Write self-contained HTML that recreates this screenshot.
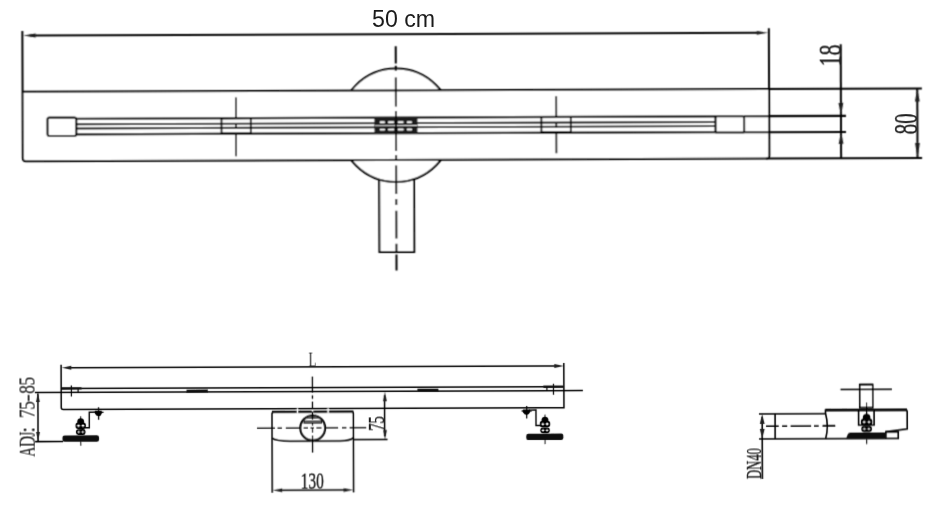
<!DOCTYPE html>
<html><head><meta charset="utf-8">
<style>
html,body{margin:0;padding:0;background:#fff;width:940px;height:510px;overflow:hidden;}
svg{display:block;}
.s{stroke:#000;stroke-width:2.0;fill:none;}
.t{fill:#1e1e1e;}
#bottom .s{stroke-width:1.5;}
#right .s{stroke-width:1.6;}
.serif{font-family:"Liberation Serif",serif;stroke:#111;stroke-width:0.35;}
</style></head>
<body>
<svg width="940" height="510" viewBox="0 0 940 510">
<rect x="0" y="0" width="940" height="510" fill="#fff"/>
<defs><filter id="bl" x="0" y="0" width="940" height="510" filterUnits="userSpaceOnUse"><feConvolveMatrix order="3" kernelMatrix="1 3 1 3 9 3 1 3 1" divisor="25" edgeMode="duplicate"/></filter><filter id="bl2" x="0" y="0" width="940" height="510" filterUnits="userSpaceOnUse"><feConvolveMatrix order="3" kernelMatrix="0 1 0 1 8 1 0 1 0" divisor="12" edgeMode="duplicate"/></filter></defs>
<defs>

</defs>
<g filter="url(#bl)">

<g id="top" transform="rotate(-0.21 396 125)">
  <!-- dimension line 50cm -->
  <line class="s" x1="30" y1="34.2" x2="760" y2="34.2"/>
  <polygon class="t" points="23.5,34.2 36.00,36.10 36.00,32.30"/>
  <polygon class="t" points="768.5,34.2 757.00,32.30 757.00,36.10"/>
  <!-- pipe -->
  <rect class="s" x="379" y="160" width="34.8" height="92" style="fill:#fff"/>
  <!-- circle -->
  <circle class="s" cx="396" cy="125.3" r="56.7" style="fill:#fff"/>
  <!-- body -->
  <rect x="22.7" y="90.4" width="746" height="69.5" fill="#fff"/>
  <path class="s" d="M22.7,29.6 V156.9 Q22.7,159.9 25.7,159.9 H766.2 Q769.2,159.9 769.2,156.9 V29.6"/>
  <line class="s" x1="22.7" y1="90.4" x2="922" y2="90.4"/>
  <line class="s" x1="766" y1="159.9" x2="922" y2="159.9"/>
  <!-- channel -->
  <g class="s" style="stroke-width:1.8">
    <line x1="76" y1="117.6" x2="716" y2="117.6" style="stroke-width:2.2;stroke:#000"/>
    <line x1="76" y1="123.1" x2="716" y2="123.1" style="stroke-width:1.9"/>
    <line x1="76" y1="127.3" x2="716" y2="127.3" style="stroke-width:1.9"/>
    <line x1="76" y1="133.2" x2="716" y2="133.2" style="stroke-width:2.2;stroke:#000"/>
    <rect x="47.5" y="116.4" width="28.8" height="18.4" rx="2" style="stroke-width:2.1"/>
    <rect x="715.5" y="117.5" width="28.6" height="16.2" rx="1.5" style="stroke-width:2.1"/>
    <line x1="744" y1="117.5" x2="846" y2="117.5" style="stroke-width:2.1"/>
    <line x1="744" y1="133.6" x2="846" y2="133.6" style="stroke-width:2.1"/>
    <!-- clips -->
    <rect x="221.5" y="117.6" width="29.3" height="15.2"/>
    <path d="M236,97 V118 M236,122.5 V128 M236,132.5 V155.6"/>
    <rect x="541.4" y="117.6" width="29.4" height="15.2"/>
    <path d="M556.3,96.9 V118 M556.3,122.5 V128 M556.3,132.5 V153.8"/>
  </g>
  <!-- center grate -->
  <rect x="374.4" y="117.4" width="43.1" height="16.2" fill="#1e1e1e"/>
  <g fill="#fff">
    <rect x="379.7" y="121.2" width="5.3" height="1.9" rx="0.8"/>
    <rect x="388" y="121.2" width="6.2" height="1.9" rx="0.8"/>
    <rect x="397.7" y="121.2" width="6" height="1.9" rx="0.8"/>
    <rect x="406.8" y="121.2" width="5.2" height="1.9" rx="0.8"/>
    <rect x="379.7" y="128.6" width="5.3" height="1.9" rx="0.8"/>
    <rect x="388" y="128.6" width="6.2" height="1.9" rx="0.8"/>
    <rect x="397.7" y="128.6" width="6" height="1.9" rx="0.8"/>
    <rect x="406.8" y="128.6" width="5.2" height="1.9" rx="0.8"/>
    <rect x="375" y="125.1" width="42" height="1.1" fill="#ddd"/>
  </g>
  <!-- centre line -->
  <path class="s" d="M396,46.2V63.5 M396,65.7V71 M396,77.5V106.5 M396,111V151 M396,155V161 M396,165.5V194 M396,199V205 M396,210.7V238.6 M396,243.7V251 M396,254.5V270.5"/>
  <!-- 18 dimension -->
  <line class="s" x1="841" y1="45.9" x2="841" y2="159.9"/>
  <polygon class="t" points="841,117.5 843.40,104.50 838.60,104.50"/>
  <polygon class="t" points="841,133.4 838.60,145.50 843.40,145.50"/>
  <!-- 80 dimension -->
  <line class="s" x1="917.4" y1="90.4" x2="917.4" y2="159.9"/>
  <polygon class="t" points="917.4,90.4 915.00,103.50 919.80,103.50"/>
  <polygon class="t" points="917.4,159.9 919.80,145.00 915.00,145.00"/>
</g>
</g>
<g filter="url(#bl2)">
<g id="bottom" transform="rotate(-0.21 470 420)">
  <!-- L dimension -->
  <line class="s" x1="68" y1="366.3" x2="558" y2="366.3"/>
  <polygon class="t" points="62,366.3 71.50,368.20 71.50,364.40"/>
  <polygon class="t" points="564,366.3 554.50,364.40 554.50,368.20"/>
  <!-- body -->
  <path class="s" d="M61.3,363.3 V406 Q61.3,408 63.3,408 H564 V363.3"/>
  <line class="s" x1="61.3" y1="387" x2="564" y2="387"/>
  <line class="s" x1="35" y1="391" x2="583" y2="391"/>
  <rect x="186.6" y="388.6" width="21.3" height="3" fill="#111"/>
  <rect x="417.5" y="388.6" width="21" height="3" fill="#111"/>
  <g class="s" style="stroke-width:1.2">
    <line x1="71.5" y1="384" x2="71.5" y2="395"/>
    <line x1="78.2" y1="386.5" x2="78.2" y2="391"/>
    <line x1="553.6" y1="384" x2="553.6" y2="395"/>
    <line x1="547" y1="386.5" x2="547" y2="391"/>
  </g>
  <path d="M62,387 H81.7 M543.5,387 H564" stroke="#111" stroke-width="2.4"/>
  <!-- ADJ dimension -->
  <line class="s" x1="38" y1="392" x2="38" y2="439.5"/>
  <polygon class="t" points="38,391 36.10,400.50 39.90,400.50"/>
  <polygon class="t" points="38,440 39.90,430.50 36.10,430.50"/>
  <line class="s" x1="35" y1="440" x2="63" y2="440" style="stroke-width:1.6"/>
  <!-- feet -->
  <rect x="62.4" y="433.9" width="36.6" height="6.4" rx="2.2" fill="#111"/>
  <g transform="translate(80.7,433.9)">
  <line x1="0" y1="-19" x2="0" y2="-15.5" stroke="#111" stroke-width="1"/>
  <path d="M-3.4,-12 V-14.2 Q-3.2,-16.8 0,-17 Q3.2,-16.8 3.4,-14.2 V-12 Z" fill="#000"/>
  <rect x="-5.2" y="-12.8" width="10.4" height="6.4" rx="2.6" fill="#000"/>
  <ellipse cx="-2.2" cy="-9.6" rx="1.3" ry="0.9" fill="#fff"/>
  <ellipse cx="2.2" cy="-9.6" rx="1.3" ry="0.9" fill="#fff"/>
  <rect x="-4.8" y="-6.2" width="9.6" height="5.8" rx="2.5" fill="#000"/>
  <ellipse cx="-2" cy="-3.3" rx="1.2" ry="0.8" fill="#fff"/>
  <ellipse cx="2" cy="-3.3" rx="1.2" ry="0.8" fill="#fff"/>
  <line x1="0" y1="6" x2="0" y2="10.5" stroke="#111" stroke-width="1"/>
</g>
  <path class="s" style="stroke-width:1.4" d="M84.5,426.3 H89.3 V410.8 H97" />
  <g transform="translate(98.6,411)">
  <line x1="0" y1="-5" x2="0" y2="7.5" stroke="#111" stroke-width="1.3"/>
  <line x1="-5" y1="0" x2="5" y2="0" stroke="#111" stroke-width="1.4"/>
  <path d="M-3.6,-1.6 H3.2 V1.2 Q2.4,3.8 0,4 Q-2.6,3.8 -3.6,1.2 Z" fill="#000"/>
</g>
  <rect x="526.2" y="433.9" width="37.1" height="6.4" rx="2.2" fill="#111"/>
  <g transform="translate(545,433.9)">
  <line x1="0" y1="-19" x2="0" y2="-15.5" stroke="#111" stroke-width="1"/>
  <path d="M-3.4,-12 V-14.2 Q-3.2,-16.8 0,-17 Q3.2,-16.8 3.4,-14.2 V-12 Z" fill="#000"/>
  <rect x="-5.2" y="-12.8" width="10.4" height="6.4" rx="2.6" fill="#000"/>
  <ellipse cx="-2.2" cy="-9.6" rx="1.3" ry="0.9" fill="#fff"/>
  <ellipse cx="2.2" cy="-9.6" rx="1.3" ry="0.9" fill="#fff"/>
  <rect x="-4.8" y="-6.2" width="9.6" height="5.8" rx="2.5" fill="#000"/>
  <ellipse cx="-2" cy="-3.3" rx="1.2" ry="0.8" fill="#fff"/>
  <ellipse cx="2" cy="-3.3" rx="1.2" ry="0.8" fill="#fff"/>
  <line x1="0" y1="6" x2="0" y2="10.5" stroke="#111" stroke-width="1"/>
</g>
  <path class="s" style="stroke-width:1.4" d="M540.5,425.8 H536 V410.3 H529" />
  <g transform="translate(526.7,411.2)">
  <line x1="0" y1="-5" x2="0" y2="7.5" stroke="#111" stroke-width="1.3"/>
  <line x1="-5" y1="0" x2="5" y2="0" stroke="#111" stroke-width="1.4"/>
  <path d="M-3.6,-1.6 H3.2 V1.2 Q2.4,3.8 0,4 Q-2.6,3.8 -3.6,1.2 Z" fill="#000"/>
</g>

  <!-- drain box -->
  <path class="s" d="M272,492 V413 Q272,411.2 274,411.2 H351.4 Q353.4,411.2 353.4,413 V492"/>
  <line x1="272" y1="411.1" x2="353.4" y2="411.1" stroke="#111" stroke-width="2.1"/>
  <g fill="#fff"><rect x="296.8" y="407.5" width="1.4" height="5"/><rect x="311.9" y="409.5" width="1.4" height="3"/><rect x="327.4" y="407.5" width="1.4" height="5"/></g>
  <path class="s" d="M272,437.4 Q276,440.4 290,440.4 H340 Q350,440.4 353.4,437.4"/>
  <circle cx="312.7" cy="427.4" r="12.4" fill="#fff" stroke="#111" stroke-width="2.2"/>
  <path d="M303.5,421.5 H322" stroke="#1a1a1a" stroke-width="3.2"/>
  <path d="M304.5,421.3 H321" stroke="#bbb" stroke-width="0.8"/>
  <path d="M305,418 Q312.7,415.5 320.5,418" stroke="#333" stroke-width="1"/>
  <path class="s" style="stroke-width:1.4" d="M257,427.4 H274.9 M277.5,427.4 H281.9 M285.8,427.4 H299.8 M303.6,427.4 H308 M310.5,427.4 H313.9 M316.4,427.4 H321.5 M325.4,427.4 H338.1 M342,427.4 H346.4 M349.6,427.4 H366.2"/>
  <path class="s" style="stroke-width:1.3" d="M312.5,376 V392 M312.5,394.7 V398.3 M312.5,401 V408.5 M312.5,411 V419 M312.5,422.5 V425 M312.5,428 V432 M312.5,435 V452"/>
  <!-- 130 dim -->
  <line class="s" x1="280" y1="489.6" x2="346" y2="489.6"/>
  <polygon class="t" points="272.5,489.6 282.00,491.50 282.00,487.70"/>
  <polygon class="t" points="352.9,489.6 343.40,487.70 343.40,491.50"/>
  <!-- 75 dim -->
  <line class="s" x1="384.6" y1="395" x2="384.6" y2="436"/>
  <polygon class="t" points="385,391.5 383.10,401.00 386.90,401.00"/>
  <polygon class="t" points="385,439.3 386.90,429.80 383.10,429.80"/>
  <line class="s" x1="354" y1="439.3" x2="387.5" y2="439.3"/>
</g>

<g id="right" transform="rotate(-0.21 470 420)">
  <!-- pipe -->
  <line class="s" x1="759" y1="415" x2="826" y2="415"/>
  <line class="s" x1="759" y1="440" x2="826" y2="440"/>
  <line class="s" x1="775.1" y1="415" x2="775.1" y2="440"/>
  <path class="s" d="M825.6,415 Q829,427.5 825.6,440"/>
  <path class="s" style="stroke-width:1.4" d="M766,427.3 H778.7 M782.1,427.3 H787.2 M790.6,427.3 H811.1 M814,427.3 H818.7 M822.6,427.3 H835.3"/>
  <!-- DN40 dim -->
  <line class="s" x1="762.2" y1="418" x2="762.2" y2="480"/>
  <polygon class="t" points="762.2,415 759.80,425.00 764.60,425.00"/>
  <polygon class="t" points="762.2,440 764.60,430.00 759.80,430.00"/>
  <!-- drain body -->
  <path class="s" d="M825.5,415 V411.4 H905 Q907.2,411.4 907.2,413.5 V430.5 L885.8,433.4"/>
  <line x1="825.5" y1="411.4" x2="907" y2="411.4" stroke="#111" stroke-width="2.6"/>
  <path class="s" d="M826,440 H898.2 V433.4 H885.8 V440"/>
  <path d="M846,440 L847.6,436 Q848.2,434 850.5,434 H885.4 V440 Z" fill="#111"/>
  <!-- stem -->
  <rect class="s" x="859.8" y="386" width="13" height="23" style="fill:#fff"/>
  <line x1="859.8" y1="386" x2="872.8" y2="386" stroke="#111" stroke-width="2.2"/>
  <line class="s" x1="840.6" y1="390.8" x2="892" y2="390.8"/>
  <path class="s" d="M858.6,411.4 V426.5 H874.1 V411.4"/>
  <g transform="translate(866.6,434) scale(1.1)">
  <line x1="0" y1="-19" x2="0" y2="-15.5" stroke="#111" stroke-width="1"/>
  <path d="M-3.4,-12 V-14.2 Q-3.2,-16.8 0,-17 Q3.2,-16.8 3.4,-14.2 V-12 Z" fill="#000"/>
  <rect x="-5.2" y="-12.8" width="10.4" height="6.4" rx="2.6" fill="#000"/>
  <ellipse cx="-2.2" cy="-9.6" rx="1.3" ry="0.9" fill="#fff"/>
  <ellipse cx="2.2" cy="-9.6" rx="1.3" ry="0.9" fill="#fff"/>
  <rect x="-4.8" y="-6.2" width="9.6" height="5.8" rx="2.5" fill="#000"/>
  <ellipse cx="-2" cy="-3.3" rx="1.2" ry="0.8" fill="#fff"/>
  <ellipse cx="2" cy="-3.3" rx="1.2" ry="0.8" fill="#fff"/>
  <line x1="0" y1="6" x2="0" y2="10.5" stroke="#111" stroke-width="1"/>
</g>
  <path class="s" style="stroke-width:1.1" d="M866.6,404 V416"/>
  <line class="s" x1="822.7" y1="427.2" x2="835" y2="427.2" style="stroke-width:1.3"/>
</g>
</g>
<g transform="rotate(-0.21 396 125)">
  <text class="serif t" font-size="32" transform="translate(840.5,68) rotate(-90) scale(0.68,1)">18</text>
  <text class="serif t" font-size="33" transform="translate(917,136.2) rotate(-90) scale(0.64,1)">80</text>
</g>
<g transform="rotate(-0.21 470 420)">
  <text class="serif t" font-size="21" style="stroke:none" transform="translate(308.7,365.8) scale(0.6,1)">L</text>
  <g class="serif t" font-size="24" text-anchor="middle" style="stroke-width:0.15" transform="translate(34.6,454.9) rotate(-90)">
    <text transform="translate(4.8,0) scale(0.58,1)">A</text>
    <text transform="translate(14.9,0) scale(0.66,1)">D</text>
    <text transform="translate(22.4,0) scale(0.5,1)">J</text>
    <text transform="translate(26.8,0) scale(0.9,1)">:</text>
    <text transform="translate(42.9,0) scale(0.72,1)">7</text>
    <text transform="translate(51,0) scale(0.72,1)">5</text>
    <text transform="translate(58.6,0) scale(0.95,1)">-</text>
    <text transform="translate(67.1,0) scale(0.72,1)">8</text>
    <text transform="translate(75.2,0) scale(0.72,1)">5</text>
  </g>
  <text class="serif t" font-size="23" transform="translate(300.6,488.4) scale(0.67,1)">130</text>
  <text class="serif t" font-size="23" transform="translate(384.2,430.6) rotate(-90) scale(0.64,1)">75</text>
  <text class="serif t" font-size="22" transform="translate(760.9,479.9) rotate(-90) scale(0.57,1)">DN40</text>
</g>
<text x="372" y="26.5" font-family="Liberation Sans, sans-serif" font-size="23.2" fill="#1a1a1a" style="will-change:transform">50 cm</text>
</svg>
</body></html>
